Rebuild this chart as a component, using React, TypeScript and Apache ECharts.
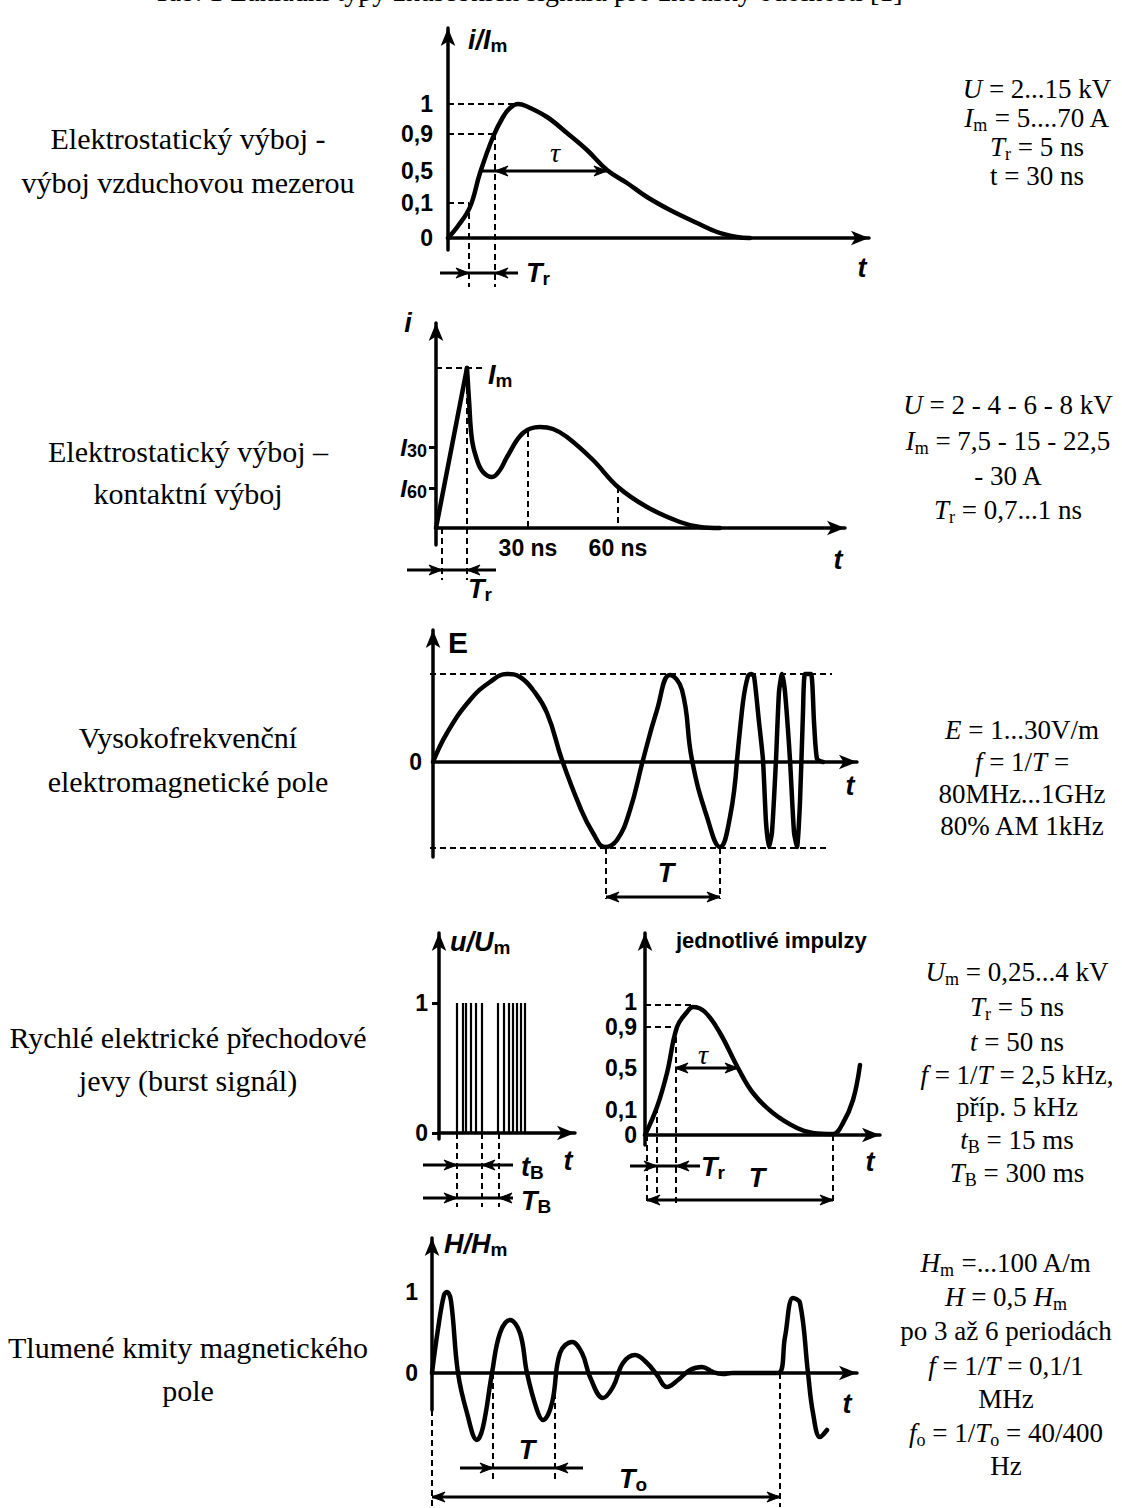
import React, { useEffect, useRef } from "react";
import * as echarts from "echarts";

const W = 1122;
const H = 1508;
const SERIF = '"Liberation Serif", "Times New Roman", Times, serif';
const SANS = '"Liberation Sans Narrow", "Arial Narrow", "Liberation Sans", Arial, sans-serif';

// ================= DATA =================
// Units: one step = one pixel-sized unit measured from each panel's axis origin
// (x → time to the right, y → signal upwards).

// 1) ESD – air-gap discharge (i/Im)
const airCurve = [[0, 0], [10, 12], [22, 31], [32, 65], [45, 101], [55, 121], [62, 130], [70, 134], [78, 132], [99, 121], [119, 105], [139, 88], [159, 68], [179, 55], [199, 41], [222, 28], [249, 15], [269, 6], [289, 1], [302, 0]];
const airLevels = [0, 35, 67, 104, 134];
const airLevelLabels = ["0", "0,1", "0,5", "0,9", "1"];
const airDashed = [[0, 134, 66, 134], [0, 104, 47, 104], [0, 35, 21, 35], [21, 35, 21, -49], [47, 104, 47, -49]];
const airLinks = [[32, 67, 47, 67], [21, -35, 47, -35]];
const airArrows = [[-8, -35, 21, -35], [70, -35, 47, -35]];
const airSpans = [[47, 67, 159, 67]];

// 2) ESD – contact discharge (i)
const contactRise = [[0, 0], [31, 160]];
const contactDecay = [[31, 160], [33, 128], [36, 88], [41, 68], [47, 56], [56, 51], [64, 58], [71, 71], [87, 95], [104, 101], [117, 99], [131, 91], [157, 68], [182, 41], [211, 21], [244, 6], [264, 1], [284, 0]];
const contactLevels = [40, 81];
const contactLevelLabels = ["{i|I}{s|60}", "{i|I}{s|30}"];
const contactTimeTicks = [92, 182];
const contactTimeLabels = ["30 ns", "60 ns"];
const contactDashed = [[0, 160, 50, 160], [31, 160, 31, -52], [6, 0, 6, -52], [92, 97, 92, 0], [182, 41, 182, 0]];
const contactLinks = [[6, -42, 31, -42]];
const contactArrows = [[-29, -42, 6, -42], [60, -42, 31, -42]];

// 3) RF electromagnetic field (E)
const rfSmoothPart = [[0, 0], [14, 29], [37, 62], [57, 80], [74, 88], [87, 85], [100, 72], [114, 49], [129, 2], [147, -45], [160, -71], [172, -85], [184, -78], [197, -48], [210, 2], [224, 52], [237, 87], [249, 72], [259, 2], [274, -55], [287, -85], [297, -55], [304, 2]];
const rfSharpPart = [[304, 2], [310, 60], [315, 86], [318, 88], [321, 86], [326, 40], [330, 2], [333, -60], [336, -85], [339, -70], [343, 2], [346, 70], [349, 88], [352, 70], [357, 2], [361, -70], [364, -85], [367, -40], [370, 50], [372, 88], [378, 88], [381, 40], [384, 3], [390, 0]];
const rfLevels = [0];
const rfLevelLabels = ["0"];
const rfDashed = [[-3, 88, 399, 88], [-3, -86, 394, -86], [173, -86, 173, -137], [287, -86, 287, -137]];
const rfSpans = [[173, -135, 287, -135]];

// 4a) Burst (u/Um)
const burstPulseTimes = [18, 24, 27, 32, 37, 43, 59, 65, 70, 74, 78, 82, 86];
const burstPulseLevel = 130;
const burstLevels = [0, 130];
const burstLevelLabels = ["0", "1"];
const burstDashed = [[18, 0, 18, -74], [43, 0, 43, -74], [60, 0, 60, -74]];
const burstLinks = [[18, -32, 43, -32], [18, -65, 60, -65]];
const burstArrows = [[-16, -32, 18, -32], [74, -32, 43, -32], [-16, -65, 18, -65], [74, -65, 60, -65]];

// 4b) Single burst pulse
const pulseCurve = [[0, 0], [12, 28], [22, 62], [32, 108], [42, 123], [48, 128], [60, 123], [75, 102], [93, 67], [108, 42], [128, 22], [152, 7], [168, 2], [188, 1], [198, 12], [208, 35], [215, 70]];
const pulseLevels = [0, 25, 67, 108, 133];
const pulseLevelLabels = ["0", "0,1", "0,5", "0,9", "1"];
const pulseDashed = [[0, 130, 48, 130], [0, 108, 32, 108], [2, 0, 2, -68], [12, 28, 12, -68], [31, 108, 31, -68], [188, 0, 188, -68]];
const pulseLinks = [[12, -31, 31, -31]];
const pulseArrows = [[-15, -31, 12, -31], [55, -31, 31, -31]];
const pulseSpans = [[30, 67, 93, 67], [2, -65, 188, -65]];

// 5) Damped oscillatory magnetic field (H/Hm)
const dampedCurve = [[0, 0], [6, 44], [12, 78], [15, 81], [19, 72], [26, 0], [35, -40], [45, -67], [51, -54], [60, 0], [68, 40], [78, 53], [88, 40], [95, 0], [105, -37], [111, -47], [120, -30], [128, 20], [140, 31], [150, 20], [158, -4], [171, -25], [181, -14], [191, 10], [203, 18], [215, 10], [225, -2], [235, -14], [246, -7], [258, 3], [270, 6], [281, 1], [291, -1], [300, 0], [346, 0], [353, 36], [361, 75], [368, 70], [376, 0], [381, -40], [388, -64], [395, -57]];
const dampedLevels = [0, 81];
const dampedLevelLabels = ["0", "1"];
const dampedDashed = [[0, -37, 0, -134], [61, 0, 61, -107], [123, -20, 123, -107], [348, 0, 348, -134]];
const dampedLinks = [[61, -95, 123, -95]];
const dampedArrows = [[28, -95, 61, -95], [151, -95, 123, -95]];
const dampedSpans = [[0, -124, 348, -124]];

// Texts
const headerText = "Tab. 1 Základní typy zkušebních signálů pro zkoušky odolnosti [1]";
const rowTitles = [
  ["Elektrostatický výboj -", "výboj vzduchovou mezerou"],
  ["Elektrostatický výboj –", "kontaktní výboj"],
  ["Vysokofrekvenční", "elektromagnetické pole"],
  ["Rychlé elektrické přechodové", "jevy (burst signál)"],
  ["Tlumené kmity magnetického", "pole"],
];
const rowParams = [
  ["{i|U} = 2...15 kV", "{i|I}{s|m} = 5....70 A", "{i|T}{s|r} = 5 ns", "t = 30 ns"],
  ["{i|U} = 2 - 4 - 6 - 8 kV", "{i|I}{s|m} = 7,5 - 15 - 22,5", "- 30 A", "{i|T}{s|r} = 0,7...1 ns"],
  ["{i|E} = 1...30V/m", "{i|f} = 1/{i|T} =", "80MHz...1GHz", "80% AM 1kHz"],
  ["{i|U}{s|m} = 0,25...4 kV", "{i|T}{s|r} = 5 ns", "{i|t} = 50 ns", "{i|f} = 1/{i|T} = 2,5 kHz,", "příp. 5 kHz", "{i|t}{s|B} = 15 ms", "{i|T}{s|B} = 300 ms"],
  ["{i|H}{s|m} =...100 A/m", "{i|H} = 0,5 {i|H}{s|m}", "po 3 až 6 periodách", "{i|f} = 1/{i|T} = 0,1/1", "MHz", "{i|f}{s|o} = 1/{i|T}{s|o} = 40/400", "Hz"],
];

// ================= LAYOUT =================
const PANELS = [
  { ox: 448, oy: 238, xMax: 421, yMin: -12, yMax: 210 },
  { ox: 436, oy: 528, xMax: 409, yMin: -17, yMax: 205 },
  { ox: 433, oy: 762, xMax: 424, yMin: -95, yMax: 132 },
  { ox: 439, oy: 1133, xMax: 136, yMin: -6, yMax: 200 },
  { ox: 645, oy: 1135, xMax: 235, yMin: -10, yMax: 202 },
  { ox: 432, oy: 1373, xMax: 425, yMin: -37, yMax: 135 },
];
const titleLayout = [[138, 182], [451, 493], [737, 781], [1037, 1080], [1347, 1390]];
const paramLayout = [
  { x: 1037, ys: [89, 118, 147, 176] },
  { x: 1008, ys: [405, 441, 476, 510] },
  { x: 1022, ys: [730, 762, 794, 826] },
  { x: 1017, ys: [972, 1007, 1042, 1075, 1107, 1140, 1173] },
  { x: 1006, ys: [1263, 1297, 1331, 1366, 1399, 1433, 1466] },
];

const SEG_STYLES: any = {
  dash: { w: 2, dash: [6, 4] },
  link: { w: 3 },
  arrow: { w: 3, end: true },
  span: { w: 3, end: true, start: true },
  pulse: { w: 2.2 },
};

function head(tip: number[], from: number[]) {
  const dx = tip[0] - from[0];
  const dy = tip[1] - from[1];
  const L = Math.hypot(dx, dy) || 1;
  const ux = dx / L, uy = dy / L;
  const nx = -uy, ny = ux;
  const l = 13, w = 5;
  return {
    type: "polygon",
    silent: true,
    shape: {
      points: [
        [tip[0], tip[1]],
        [tip[0] - ux * l + nx * w, tip[1] - uy * l + ny * w],
        [tip[0] - ux * l * 0.7, tip[1] - uy * l * 0.7],
        [tip[0] - ux * l - nx * w, tip[1] - uy * l - ny * w],
      ],
    },
    style: { fill: "#000", stroke: "#000", lineWidth: 1 },
  };
}

function renderSeg(kind: string) {
  const st = SEG_STYLES[kind];
  return (_params: any, api: any) => {
    const a = api.coord([api.value(0), api.value(1)]);
    const b = api.coord([api.value(2), api.value(3)]);
    const children: any[] = [
      {
        type: "line",
        silent: true,
        shape: { x1: a[0], y1: a[1], x2: b[0], y2: b[1] },
        style: { stroke: "#000", lineWidth: st.w, lineDash: st.dash || null, fill: null },
      },
    ];
    if (st.end) children.push(head(b, a));
    if (st.start) children.push(head(a, b));
    return { type: "group", children };
  };
}

function segSeries(panel: number, data: number[][], kind: string) {
  return {
    type: "custom",
    xAxisIndex: panel,
    yAxisIndex: panel,
    silent: true,
    clip: false,
    data,
    encode: { x: [0, 2], y: [1, 3] },
    renderItem: renderSeg(kind),
    z: 3,
  };
}

function curve(panel: number, data: number[][], smooth: number | boolean) {
  return {
    type: "line",
    xAxisIndex: panel,
    yAxisIndex: panel,
    data,
    showSymbol: false,
    symbol: "none",
    smooth,
    clip: false,
    silent: true,
    lineStyle: { color: "#000", width: 4.5, cap: "round", join: "round" },
    z: 4,
  };
}

const diagRich = {
  i: { fontFamily: SANS, fontSize: 27, fontWeight: "bold", fontStyle: "italic", lineHeight: 30, fill: "#000", color: "#000" },
  u: { fontFamily: SANS, fontSize: 30, fontWeight: "bold", lineHeight: 30, fill: "#000", color: "#000" },
  s: { fontFamily: SANS, fontSize: 19, fontWeight: "bold", lineHeight: 20, verticalAlign: "bottom", fill: "#000", color: "#000" },
};
const paramRich = {
  i: { fontFamily: SERIF, fontSize: 27, fontStyle: "italic", lineHeight: 32, fill: "#000", color: "#000" },
  s: { fontFamily: SERIF, fontSize: 18, lineHeight: 20, verticalAlign: "bottom", fill: "#000", color: "#000" },
};

function txt(text: string, x: number, y: number, o: any = {}) {
  const align = o.align || "center";
  const va = o.va || "middle";
  return {
    type: "text",
    silent: true,
    z: 10,
    style: {
      text,
      x,
      y,
      fill: "#000",
      fontFamily: o.family || SANS,
      fontSize: o.size || 27,
      fontWeight: o.weight || "normal",
      fontStyle: o.style || "normal",
      lineHeight: o.lh || 30,
      align,
      verticalAlign: va,
      textAlign: align,
      textVerticalAlign: va,
      rich: o.rich,
    },
  };
}

function pick(values: number[], labels: string[]) {
  return (v: number) => {
    const k = values.findIndex((x) => Math.abs(x - v) < 1e-6);
    return k >= 0 ? labels[k] : "";
  };
}

const labelFont = { fontFamily: SANS, fontWeight: "bold", fontSize: 23, color: "#000" };

const yLabelCfg: any[] = [
  { values: airLevels, labels: airLevelLabels, margin: 15 },
  { values: contactLevels, labels: contactLevelLabels, margin: 9, ticks: true },
  { values: rfLevels, labels: rfLevelLabels, margin: 11 },
  { values: burstLevels, labels: burstLevelLabels, margin: 11, ticks: true },
  { values: pulseLevels, labels: pulseLevelLabels, margin: 8 },
  { values: dampedLevels, labels: dampedLevelLabels, margin: 14 },
];

function buildOption() {
  const axisLine = {
    show: true,
    onZero: true,
    symbol: ["none", "arrow"],
    symbolSize: [11, 18],
    lineStyle: { color: "#000", width: 3.5 },
  };
  const grid = PANELS.map((p) => ({
    left: p.ox,
    top: p.oy - p.yMax,
    width: p.xMax,
    height: p.yMax - p.yMin,
    containLabel: false,
  }));
  const xAxis = PANELS.map((p, i) => ({
    gridIndex: i,
    type: "value",
    min: 0,
    max: p.xMax,
    axisLine,
    splitLine: { show: false },
    axisTick: { show: false },
    axisLabel:
      i === 1
        ? { show: true, hideOverlap: false, customValues: contactTimeTicks, formatter: pick(contactTimeTicks, contactTimeLabels), margin: -9, ...labelFont }
        : { show: false },
  }));
  const yAxis = PANELS.map((p, i) => {
    const c = yLabelCfg[i];
    return {
      gridIndex: i,
      type: "value",
      min: p.yMin,
      max: p.yMax,
      axisLine,
      splitLine: { show: false },
      axisTick: c.ticks
        ? { show: true, customValues: c.values, length: 7, lineStyle: { color: "#000", width: 3 } }
        : { show: false },
      axisLabel: {
        show: true,
        hideOverlap: false,
        customValues: c.values,
        formatter: pick(c.values, c.labels),
        margin: c.margin,
        ...labelFont,
        rich: {
          i: { fontFamily: SANS, fontSize: 24, fontWeight: "bold", fontStyle: "italic", color: "#000", lineHeight: 26 },
          s: { fontFamily: SANS, fontSize: 18, fontWeight: "bold", color: "#000", lineHeight: 18, verticalAlign: "bottom" },
        },
      },
    };
  });

  const series: any[] = [
    curve(0, airCurve, 0.4),
    segSeries(0, airDashed, "dash"),
    segSeries(0, airLinks, "link"),
    segSeries(0, airArrows, "arrow"),
    segSeries(0, airSpans, "span"),

    curve(1, contactRise, false),
    curve(1, contactDecay, 0.4),
    segSeries(1, contactDashed, "dash"),
    segSeries(1, contactLinks, "link"),
    segSeries(1, contactArrows, "arrow"),

    curve(2, rfSmoothPart, 0.45),
    curve(2, rfSharpPart, 0.2),
    segSeries(2, rfDashed, "dash"),
    segSeries(2, rfSpans, "span"),

    segSeries(3, burstPulseTimes.map((t) => [t, 0, t, burstPulseLevel]), "pulse"),
    segSeries(3, burstDashed, "dash"),
    segSeries(3, burstLinks, "link"),
    segSeries(3, burstArrows, "arrow"),

    curve(4, pulseCurve, 0.4),
    segSeries(4, pulseDashed, "dash"),
    segSeries(4, pulseLinks, "link"),
    segSeries(4, pulseArrows, "arrow"),
    segSeries(4, pulseSpans, "span"),

    curve(5, dampedCurve, 0.4),
    segSeries(5, dampedDashed, "dash"),
    segSeries(5, dampedLinks, "link"),
    segSeries(5, dampedArrows, "arrow"),
    segSeries(5, dampedSpans, "span"),
  ];

  const D = { rich: diagRich, size: 27, family: SANS, weight: "bold", style: "italic" };
  const tau = { family: SERIF, size: 28, style: "italic" };
  const elements: any[] = [];

  elements.push(txt(headerText, 528, 6, { family: SERIF, size: 28, va: "bottom" }));

  rowTitles.forEach((lines, r) => {
    lines.forEach((line, k) => {
      elements.push(txt(line, 188, titleLayout[r][k], { family: SERIF, size: 30, lh: 34 }));
    });
  });
  rowParams.forEach((lines, r) => {
    lines.forEach((line, k) => {
      elements.push(
        txt(line, paramLayout[r].x, paramLayout[r].ys[k], { family: SERIF, size: 27, lh: 32, rich: paramRich })
      );
    });
  });

  // Panel annotations
  elements.push(txt("{i|i/I}{s|m}", 468, 40, { ...D, align: "left" }));
  elements.push(txt("τ", 555, 152, tau));
  elements.push(txt("{i|T}{s|r}", 526, 273, { ...D, align: "left" }));
  elements.push(txt("{i|t}", 862, 268, D));

  elements.push(txt("{i|i}", 408, 323, D));
  elements.push(txt("{i|I}{s|m}", 488, 375, { ...D, align: "left" }));
  elements.push(txt("{i|T}{s|r}", 480, 589, D));
  elements.push(txt("{i|t}", 838, 560, D));

  elements.push(txt("{u|E}", 448, 642, { ...D, align: "left" }));
  elements.push(txt("{i|T}", 666, 873, D));
  elements.push(txt("{i|t}", 850, 786, D));

  elements.push(txt("{i|u/U}{s|m}", 450, 942, { ...D, align: "left" }));
  elements.push(txt("{i|t}{s|B}", 521, 1167, { ...D, align: "left" }));
  elements.push(txt("{i|T}{s|B}", 521, 1201, { ...D, align: "left" }));
  elements.push(txt("{i|t}", 568, 1161, D));

  elements.push(txt("jednotlivé impulzy", 676, 940, { family: SANS, size: 22, weight: "bold", align: "left" }));
  elements.push(txt("τ", 703, 1054, tau));
  elements.push(txt("{i|T}{s|r}", 701, 1167, { ...D, align: "left" }));
  elements.push(txt("{i|T}", 757, 1178, D));
  elements.push(txt("{i|t}", 870, 1162, D));

  elements.push(txt("{i|H/H}{s|m}", 444, 1244, { ...D, align: "left" }));
  elements.push(txt("{i|T}", 527, 1450, D));
  elements.push(txt("{i|T}{s|o}", 633, 1479, D));
  elements.push(txt("{i|t}", 847, 1404, D));

  return {
    animation: false,
    backgroundColor: "#ffffff",
    grid,
    xAxis,
    yAxis,
    series,
    graphic: { elements },
  };
}

export default function App() {
  const ref = useRef<HTMLDivElement>(null);
  useEffect(() => {
    document.body.style.margin = "0";
    const chart = echarts.init(ref.current as HTMLDivElement, null, { renderer: "svg", width: W, height: H });
    chart.setOption(buildOption() as any);
    return () => chart.dispose();
  }, []);
  return <div ref={ref} style={{ width: W, height: H, background: "#fff" }} />;
}
